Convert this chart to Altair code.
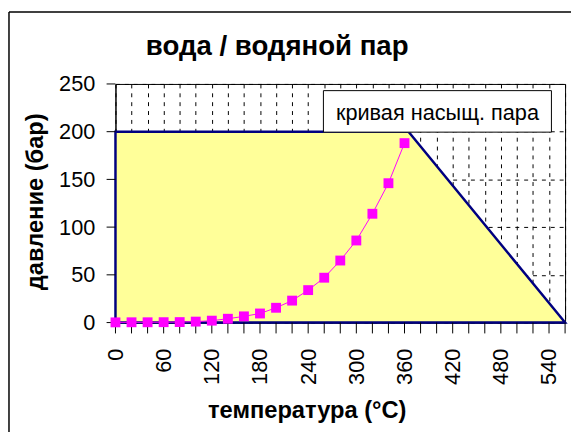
import altair as alt
import pandas as pd

# saturated-steam curve
temps = [0, 20, 40, 60, 80, 100, 120, 140, 160, 180, 200, 220, 240, 260, 280, 300, 320, 340, 360]
pressures = [0.2, 0.3, 0.3, 0.4, 0.5, 1, 2, 4, 6.5, 9.5, 15.5, 23, 34, 47, 65, 86, 114, 146, 188]

# water region (yellow area) boundary
area_t = [0, 365, 560]
area_p = [200, 200, 0]

x_ticks = [0, 20, 40, 60, 80, 100, 120, 140, 160, 180, 200, 220, 240, 260, 280,
           300, 320, 340, 360, 380, 400, 420, 440, 460, 480, 500, 520, 540, 560]
y_ticks = [0, 50, 100, 150, 200, 250]

title_text = "вода / водяной пар"
x_title = "температура (°C)"
y_title = "давление (бар)"
label_text = "кривая насыщ. пара"

FONT = "Liberation Sans"

df_curve = pd.DataFrame({"t": temps, "p": pressures})
df_area = pd.DataFrame({"t": area_t, "p": area_p})
df_xt = pd.DataFrame({"t": x_ticks})
df_yt = pd.DataFrame({"p": y_ticks})
one = pd.DataFrame({"k": [0]})

xscale = alt.Scale(domain=[0, 560], nice=False, zero=False)
yscale = alt.Scale(domain=[0, 250], nice=False)

xaxis = alt.Axis(
    values=x_ticks, format="d",
    labelExpr="datum.value % 60 == 0 ? datum.label : ''",
    labelAngle=-90, labelFontSize=22, labelPadding=26, labelOverlap=False,
    ticks=False,
    domain=True, domainColor="black", domainWidth=1,
    title=x_title, titleFontSize=24, titleFontWeight="bold",
    titleX=194, titleY=96, titleAlign="center", titleBaseline="alphabetic",
    grid=True, gridColor="black", gridDash=[4, 5], gridWidth=1, gridOpacity=1,
)
yaxis = alt.Axis(
    values=y_ticks, format="d",
    labelFontSize=22, labelPadding=21, labelOverlap=False,
    ticks=False,
    domain=True, domainColor="black", domainWidth=1,
    title=y_title, titleFontSize=24, titleFontWeight="bold",
    titleX=-74, titleY=119, titleAngle=270, titleAlign="center", titleBaseline="alphabetic",
    grid=True, gridColor="black", gridDash=[4, 5], gridWidth=1, gridOpacity=1,
)

area = alt.Chart(df_area).mark_area(
    fill="#FFFF99", fillOpacity=1, stroke="#000080", strokeWidth=2.5
).encode(
    x=alt.X("t:Q", scale=xscale, axis=xaxis),
    y=alt.Y("p:Q", scale=yscale, axis=yaxis),
)

# tick marks drawn as short rules outside the plot
xtick_marks = alt.Chart(df_xt).mark_rule(color="black", strokeWidth=1).encode(
    x=alt.X("t:Q", scale=xscale, axis=xaxis),
    y=alt.value(242), y2=alt.value(253),
)
ytick_marks = alt.Chart(df_yt).mark_rule(color="black", strokeWidth=1).encode(
    y=alt.Y("p:Q", scale=yscale, axis=yaxis),
    x=alt.value(-9), x2=alt.value(0),
)

curve = alt.Chart(df_curve).mark_line(
    color="#FF00FF", strokeWidth=1,
    point=alt.OverlayMarkDef(shape="square", size=100, filled=True, color="#FF00FF", opacity=1),
).encode(
    x=alt.X("t:Q", scale=xscale, axis=xaxis),
    y=alt.Y("p:Q", scale=yscale, axis=yaxis),
)

box = alt.Chart(one).mark_rect(fill="white", stroke="black", strokeWidth=1).encode(
    x=alt.XDatum(259, scale=xscale, axis=xaxis, type="quantitative"),
    x2=alt.datum(543),
    y=alt.YDatum(199.5, scale=yscale, axis=yaxis, type="quantitative"),
    y2=alt.datum(243),
)

box_text = alt.Chart(one).mark_text(
    text=label_text, font=FONT, fontSize=22, align="center", baseline="alphabetic", color="black"
).encode(
    x=alt.XDatum(401, scale=xscale, axis=xaxis, type="quantitative"),
    y=alt.YDatum(212.5, scale=yscale, axis=yaxis, type="quantitative"),
)

title = alt.Chart(one).mark_text(
    text=title_text, font=FONT, fontSize=28, fontWeight="bold",
    align="center", baseline="alphabetic", color="black"
).encode(x=alt.value(164), y=alt.value(-29))

frame_top = alt.Chart(one).mark_rule(color="black", strokeWidth=1.5).encode(
    x=alt.value(-108), x2=alt.value(462), y=alt.value(-73), y2=alt.value(-73)
)
frame_left = alt.Chart(one).mark_rule(color="black", strokeWidth=1.5).encode(
    x=alt.value(-108), x2=alt.value(-108), y=alt.value(-73), y2=alt.value(353)
)

chart = alt.layer(area, xtick_marks, ytick_marks, curve, box, box_text, title,
                  frame_top, frame_left).properties(
    width=456, height=242,
    autosize=alt.AutoSizeParams(type="none"),
    padding={"left": 109, "top": 74, "right": 6, "bottom": 111},
    background="white",
).configure_view(
    stroke="black", strokeWidth=1
).configure_axis(
    labelColor="black", titleColor="black",
    labelFont=FONT, titleFont=FONT,
)

chart.save("out.html", embed_options={"renderer": "svg", "actions": False})
